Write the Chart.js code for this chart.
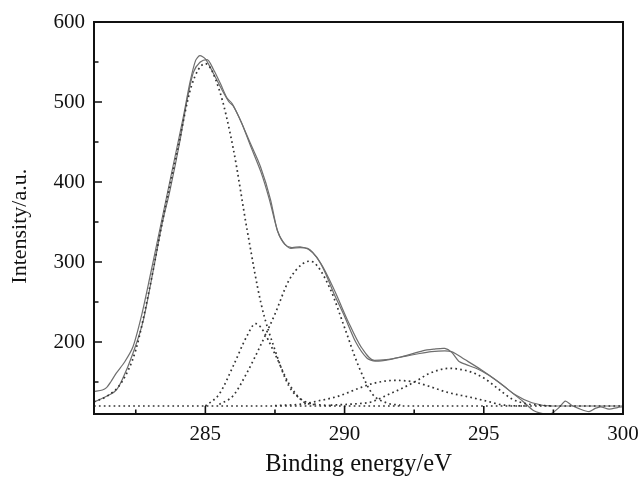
<!DOCTYPE html>
<html>
<head>
<meta charset="utf-8">
<script src="https://cdn.jsdelivr.net/npm/chart.js@4/dist/chart.umd.min.js"></script>
<style>
html,body{margin:0;padding:0;background:#fff;}
#wrap{width:641px;height:481px;}
</style>
</head>
<body>
<div id="wrap"><canvas id="c" width="641" height="481"></canvas></div>
<script>
// ---- data ----
const xTickValues = [285, 290, 295, 300];
const yTickValues = [200, 300, 400, 500, 600];
const xMinorTicks = [282.5, 287.5, 292.5, 297.5];
const yMinorTicks = [150, 250, 350, 450, 550];

// experimental spectrum (noisy solid line)
const expE = [281.0,281.3,281.45,281.6,281.8,282.1,282.4,282.7,283.0,283.3,283.6,283.9,284.2,284.45,284.65,284.8,285.0,285.3,285.6,285.85,286.0,286.3,286.6,287.0,287.3,287.6,287.85,288.1,288.4,288.7,289.0,289.3,289.6,290.0,290.4,290.8,291.1,291.6,292.2,292.8,293.2,293.6,293.85,294.1,294.35,294.8,295.2,295.6,296.0,296.4,296.8,297.2,297.45,297.7,297.93,298.15,298.4,298.78,299.0,299.2,299.5,299.8,300.0];
const expI = [138,140,143,150,161,175,194,232,280,330,380,430,480,525,552,558,554,535,515,500,495,474,447,412,378,338,322,318,319,316,306,287,262,232,200,180,176,178,183,189,191,192,187,176,172,166,158,148,137,126,114,110,111,118,126,121,117,113,117,119,116,118,119];

// fitted envelope (smooth solid line)
const envE = [281.0,281.5,281.8,282.0,282.4,282.77,283.13,283.43,283.73,284.09,284.34,284.57,284.82,285.06,285.3,285.54,285.78,285.96,286.26,286.62,286.98,287.34,287.58,287.8,288.07,288.4,288.67,289.15,289.63,290.11,290.59,291.07,291.5,292.16,292.6,293.12,293.6,293.84,294.32,294.92,295.53,296.13,296.73,297.45,298.0,300.0];
const envI = [125,133,140,152,186,227,290,345,390,452,502,537,550,553,540,523,505,498,477,448,419,378,340,325,317,318,317,298,265,227,194,177,178,182,185,188,189,188,178,165,150,134,124,120,120,120];

// component peaks (dotted)
const p1E = [281.0,281.5,282.0,282.5,283.0,283.5,284.0,284.5,285.0,285.5,286.0,286.5,287.0,287.5,288.0,288.5,289.0,289.5];
const p1I = [125,133,150,190,268,358,440,520,548,515,442,340,248,190,145,127,122,120.5];
const p2E = [285.0,285.5,286.0,286.5,286.8,287.0,287.5,288.0,288.5,289.0];
const p2I = [120,135,170,208,223,218,185,148,126,121];
const p3E = [285.5,286.0,286.5,287.0,287.5,288.0,288.5,288.75,289.0,289.5,290.0,290.5,291.0,291.5,292.0];
const p3I = [122,133,162,197,235,277,298,301,296,265,218,170,135,124,121];
const p4E = [287.5,288.5,289.0,289.75,290.5,291.0,291.8,292.5,293.0,293.7,294.5,295.0,295.75,296.5];
const p4I = [120.5,122.5,126,132,142,148,152,150,145,137,131,127,121,120];
const p5E = [289.5,290.5,290.95,291.67,292.0,292.64,293.0,293.75,294.5,295.0,295.5,296.0,296.5,297.0,297.5];
const p5I = [121,123,125,136,141,152.5,160,167,163,155,142,129,123,121,120];

// background line
const bgE = [281, 300];
const bgI = [120, 120];

function pts(xs, ys){ return xs.map((x,i)=>({x:x, y:ys[i]})); }

const dotStyle = {borderColor:'#333', borderWidth:1.7, borderDash:[1.7,3.2], pointRadius:0, fill:false, cubicInterpolationMode:'monotone'};
const solidStyle = {borderColor:'#6e6e6e', borderWidth:1.2, pointRadius:0, fill:false};

const framePlugin = {
  id:'frame',
  afterDatasetsDraw(chart){
    const ctx = chart.ctx, a = chart.chartArea;
    const xs = chart.scales.x, ys = chart.scales.y;
    ctx.save();
    ctx.strokeStyle = '#111';
    ctx.lineWidth = 2;
    ctx.strokeRect(a.left, a.top, a.right - a.left, a.bottom - a.top);
    ctx.lineWidth = 1.6;
    ctx.beginPath();
    xTickValues.forEach(v=>{ const p = xs.getPixelForValue(v); ctx.moveTo(p, a.bottom); ctx.lineTo(p, a.bottom-8); });
    xMinorTicks.forEach(v=>{ const p = xs.getPixelForValue(v); ctx.moveTo(p, a.bottom); ctx.lineTo(p, a.bottom-4.5); });
    yTickValues.forEach(v=>{ const p = ys.getPixelForValue(v); ctx.moveTo(a.left, p); ctx.lineTo(a.left+8, p); });
    yMinorTicks.forEach(v=>{ const p = ys.getPixelForValue(v); ctx.moveTo(a.left, p); ctx.lineTo(a.left+4.5, p); });
    ctx.stroke();
    ctx.restore();
  }
};

new Chart(document.getElementById('c'), {
  type:'line',
  data:{
    datasets:[
      Object.assign({label:'background', data:pts(bgE,bgI)}, dotStyle),
      Object.assign({label:'peak 1', data:pts(p1E,p1I)}, dotStyle),
      Object.assign({label:'peak 2', data:pts(p2E,p2I)}, dotStyle),
      Object.assign({label:'peak 3', data:pts(p3E,p3I)}, dotStyle),
      Object.assign({label:'peak 4', data:pts(p4E,p4I)}, dotStyle),
      Object.assign({label:'peak 5', data:pts(p5E,p5I)}, dotStyle),
      Object.assign({label:'fit', data:pts(envE,envI), cubicInterpolationMode:'monotone'}, solidStyle),
      Object.assign({label:'experimental', data:pts(expE,expI), tension:0.25}, solidStyle)
    ]
  },
  options:{
    responsive:false,
    animation:false,
    layout:{padding:{left:0, right:18, top:22, bottom:0}},
    plugins:{legend:{display:false}, tooltip:{enabled:false}},
    scales:{
      x:{
        type:'linear', min:281, max:300,
        grid:{display:false, drawTicks:false},
        border:{display:false},
        afterBuildTicks(s){ s.ticks = xTickValues.map(v=>({value:v})); },
        afterFit(s){ s.height = 67; s.paddingLeft = 0; s.paddingRight = 0; },
        ticks:{padding:8, color:'#111', font:{family:'Liberation Serif', size:21}, autoSkip:false, maxRotation:0},
        title:{display:true, text:'Binding energy/eV', color:'#111', font:{family:'Liberation Serif', size:24.5}, padding:{top:0, bottom:2}}
      },
      y:{
        type:'linear', min:110, max:600,
        grid:{display:false, drawTicks:false},
        border:{display:false},
        afterBuildTicks(s){ s.ticks = yTickValues.map(v=>({value:v})); },
        afterFit(s){ s.width = 94; s.paddingTop = 0; s.paddingBottom = 0; },
        ticks:{padding:9, color:'#111', font:{family:'Liberation Serif', size:21}, autoSkip:false},
        title:{display:true, text:'Intensity/a.u.   ', color:'#111', font:{family:'Liberation Serif', size:22}, padding:{top:7, bottom:0}}
      }
    }
  },
  plugins:[framePlugin]
});
</script>
</body>
</html>
